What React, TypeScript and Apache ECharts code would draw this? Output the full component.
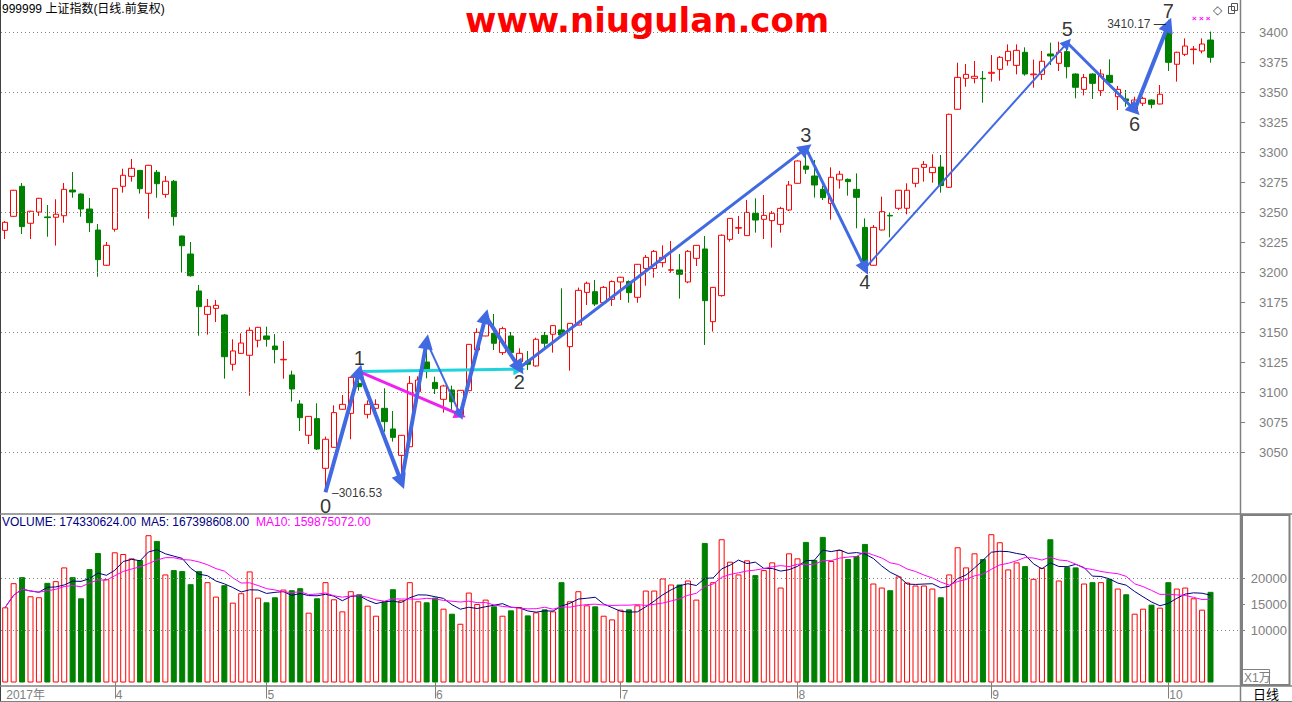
import React, { useEffect, useRef } from 'react';
import * as echarts from 'echarts';

// ---------- data ----------
const monthDays: [number, number[]][] = [
  [3, [15, 16, 17, 20, 21, 22, 23, 24, 27, 28, 29, 30, 31]],
  [4, [5, 6, 7, 10, 11, 12, 13, 14, 17, 18, 19, 20, 21, 24, 25, 26, 27, 28]],
  [5, [2, 3, 4, 5, 8, 9, 10, 11, 12, 15, 16, 17, 18, 19, 22, 23, 24, 25, 26, 31]],
  [6, [1, 2, 5, 6, 7, 8, 9, 12, 13, 14, 15, 16, 19, 20, 21, 22, 23, 26, 27, 28, 29, 30]],
  [7, [3, 4, 5, 6, 7, 10, 11, 12, 13, 14, 17, 18, 19, 20, 21, 24, 25, 26, 27, 28, 31]],
  [8, [1, 2, 3, 4, 7, 8, 9, 10, 11, 14, 15, 16, 17, 18, 21, 22, 23, 24, 25, 28, 29, 30, 31]],
  [9, [1, 4, 5, 6, 7, 8, 11, 12, 13, 14, 15, 18, 19, 20, 21, 22, 25, 26, 27, 28, 29]],
  [10, [9, 10, 11, 12, 13, 16]],
];

// [open, close, low, high]
const ohlc: number[][] = [
  [3234.7, 3241.4, 3227.5, 3242.5], [3246.4, 3268.1, 3246.0, 3268.5], [3271.4, 3237.8, 3231.7, 3274.2],
  [3240.6, 3250.6, 3227.5, 3251.1], [3250.0, 3261.4, 3246.7, 3261.8], [3245.9, 3245.3, 3229.4, 3255.8],
  [3245.6, 3248.1, 3222.0, 3260.6], [3246.9, 3268.9, 3241.1, 3274.2], [3268.3, 3266.7, 3261.9, 3283.3],
  [3265.0, 3252.5, 3246.1, 3265.5], [3252.5, 3241.1, 3233.3, 3261.7], [3235.0, 3210.3, 3196.1, 3240.0],
  [3205.6, 3222.2, 3205.0, 3225.0], [3235.6, 3269.7, 3233.6, 3270.0], [3271.4, 3280.6, 3266.1, 3286.1],
  [3279.7, 3286.4, 3275.3, 3294.2], [3284.7, 3269.4, 3265.3, 3285.0], [3265.6, 3288.9, 3244.4, 3289.2],
  [3283.1, 3273.6, 3261.9, 3285.0], [3264.7, 3275.6, 3261.9, 3280.0], [3275.6, 3246.1, 3238.6, 3276.7],
  [3230.0, 3221.9, 3199.7, 3230.3], [3215.0, 3196.9, 3196.1, 3225.0], [3184.2, 3171.1, 3146.9, 3189.2],
  [3164.7, 3171.4, 3147.8, 3177.5], [3169.7, 3172.2, 3158.3, 3176.7], [3164.2, 3129.4, 3111.1, 3165.0],
  [3123.1, 3134.2, 3117.8, 3143.9], [3132.2, 3140.8, 3131.9, 3148.9], [3130.6, 3151.4, 3096.9, 3153.9],
  [3143.1, 3153.9, 3137.2, 3154.2], [3146.7, 3143.9, 3137.8, 3154.4], [3138.3, 3135.3, 3123.9, 3148.3],
  [3126.8, 3127.2, 3111.1, 3142.5], [3114.2, 3102.5, 3092.0, 3117.8], [3090.0, 3078.6, 3067.5, 3093.3],
  [3063.9, 3079.7, 3056.7, 3080.0], [3077.8, 3052.5, 3051.7, 3090.6], [3036.4, 3060.6, 3016.53, 3062.8],
  [3053.9, 3082.8, 3053.6, 3088.9], [3085.6, 3089.7, 3085.3, 3097.5], [3082.2, 3112.2, 3060.6, 3112.5],
  [3107.2, 3104.4, 3101.1, 3119.7], [3081.4, 3089.7, 3078.0, 3093.0], [3086.4, 3089.7, 3082.2, 3093.9],
  [3086.4, 3075.3, 3066.9, 3103.1], [3069.2, 3062.2, 3058.6, 3084.2], [3047.2, 3063.9, 3024.0, 3064.2],
  [3054.4, 3107.2, 3054.0, 3113.3], [3100.3, 3110.0, 3098.0, 3113.0], [3125.0, 3117.0, 3111.4, 3143.3],
  [3108.0, 3102.8, 3098.3, 3112.8], [3093.9, 3105.0, 3082.8, 3106.0], [3101.7, 3091.9, 3085.0, 3105.3],
  [3080.8, 3101.4, 3079.4, 3101.7], [3101.1, 3139.7, 3100.8, 3140.0], [3135.0, 3149.7, 3134.7, 3153.1],
  [3146.7, 3157.8, 3146.4, 3163.3], [3148.9, 3140.6, 3135.0, 3165.0], [3132.8, 3152.8, 3130.8, 3154.4],
  [3146.7, 3132.8, 3129.4, 3150.0], [3125.3, 3132.2, 3118.3, 3136.4], [3125.8, 3123.1, 3118.3, 3134.2],
  [3121.7, 3143.9, 3121.1, 3145.3], [3147.2, 3140.6, 3135.0, 3150.0], [3148.1, 3155.3, 3132.8, 3155.6],
  [3151.7, 3147.5, 3147.0, 3186.4], [3137.8, 3157.2, 3117.8, 3157.5], [3155.8, 3184.7, 3155.5, 3187.0],
  [3183.0, 3190.6, 3172.5, 3192.0], [3183.6, 3173.3, 3171.7, 3193.3], [3174.4, 3187.2, 3174.0, 3188.3],
  [3177.2, 3192.0, 3171.7, 3193.0], [3191.7, 3195.6, 3176.7, 3196.0], [3192.0, 3182.8, 3174.4, 3193.0],
  [3178.9, 3206.4, 3174.4, 3206.7], [3203.0, 3212.2, 3188.6, 3214.2], [3203.0, 3217.2, 3195.3, 3218.3],
  [3207.8, 3212.2, 3203.9, 3222.2], [3201.5, 3201.9, 3199.4, 3225.8], [3201.7, 3198.1, 3177.8, 3215.0],
  [3191.7, 3217.2, 3190.6, 3218.3], [3211.4, 3222.2, 3205.0, 3222.5], [3219.2, 3176.1, 3139.2, 3230.0],
  [3158.6, 3187.2, 3150.3, 3187.5], [3180.3, 3230.6, 3179.4, 3231.4], [3227.2, 3244.7, 3225.3, 3245.0],
  [3236.5, 3237.0, 3231.7, 3246.7], [3230.3, 3249.7, 3230.0, 3260.0], [3248.9, 3243.3, 3232.8, 3261.4],
  [3243.9, 3247.2, 3227.5, 3264.2], [3242.8, 3248.9, 3220.3, 3250.8], [3239.7, 3253.0, 3232.8, 3254.4],
  [3251.7, 3272.5, 3250.8, 3275.8], [3273.9, 3292.5, 3273.6, 3293.0], [3288.3, 3285.6, 3281.7, 3304.4],
  [3280.0, 3272.5, 3262.0, 3293.3], [3268.9, 3262.0, 3260.0, 3272.0], [3257.2, 3278.9, 3243.6, 3287.2],
  [3276.7, 3281.5, 3269.5, 3284.3], [3277.2, 3275.3, 3263.6, 3278.0], [3268.9, 3262.2, 3236.4, 3282.2],
  [3237.2, 3208.6, 3201.7, 3244.7], [3205.6, 3237.2, 3205.3, 3239.2], [3235.0, 3250.3, 3234.7, 3262.8],
  [3247.2, 3246.7, 3228.9, 3249.4], [3253.1, 3268.1, 3251.7, 3268.5], [3253.1, 3268.1, 3248.1, 3273.9],
  [3273.9, 3286.4, 3270.6, 3286.7], [3287.2, 3289.7, 3275.3, 3292.5], [3282.8, 3287.2, 3274.4, 3298.0],
  [3287.5, 3272.0, 3266.1, 3297.5], [3270.6, 3331.4, 3270.0, 3332.0], [3335.6, 3362.2, 3335.3, 3374.4],
  [3361.4, 3364.7, 3354.4, 3373.3], [3361.4, 3363.1, 3357.2, 3375.8], [3361.4, 3361.0, 3341.1, 3367.5],
  [3365.6, 3366.4, 3358.6, 3380.8], [3368.9, 3378.9, 3359.4, 3380.0], [3376.1, 3383.9, 3372.0, 3389.7],
  [3372.2, 3384.7, 3364.7, 3389.7], [3383.1, 3365.0, 3363.6, 3387.2], [3364.4, 3365.0, 3353.6, 3377.0],
  [3364.7, 3375.6, 3360.0, 3384.2], [3381.7, 3380.0, 3372.5, 3391.1], [3373.9, 3383.1, 3367.5, 3392.0],
  [3383.6, 3371.1, 3361.4, 3391.1], [3365.0, 3353.9, 3344.7, 3365.5], [3352.2, 3362.0, 3347.2, 3365.0],
  [3365.0, 3357.2, 3344.2, 3365.5], [3351.1, 3365.0, 3346.7, 3368.9], [3363.9, 3357.8, 3357.2, 3377.2],
  [3346.1, 3352.2, 3335.0, 3355.0], [3344.2, 3342.5, 3337.8, 3351.7], [3335.6, 3343.3, 3333.6, 3346.1],
  [3340.6, 3344.7, 3338.3, 3346.1], [3343.3, 3339.7, 3336.4, 3343.9], [3340.0, 3348.1, 3339.7, 3355.8],
  [3403.1, 3374.7, 3367.5, 3410.17], [3373.1, 3383.1, 3358.6, 3383.6], [3381.4, 3388.3, 3380.0, 3394.7],
  [3385.3, 3385.8, 3373.0, 3388.3], [3384.2, 3390.0, 3382.2, 3394.7], [3393.3, 3378.9, 3374.4, 3400.3],
];

// volume in units of 10,000 shares (万)
const volume: number[] = [
  14455, 19100, 20260, 16584, 16390, 19164, 19487, 22131, 20260, 16197,
  21808, 24904, 19874, 25034, 24711, 23873, 23550, 28323, 27227, 20776,
  21615, 21422, 18906, 21422, 19293, 16520, 18713, 15358, 17165, 21357,
  16326, 15423, 16390, 17874, 17745, 18132, 13424, 16197, 19293, 16003,
  13682, 17552, 16971, 14778, 12843, 15617, 17939, 15810, 19293, 15617,
  15423, 16326, 14197, 13230, 11295, 17294, 15100, 15939, 14649, 12843,
  13875, 14520, 12907, 13488, 14068, 13682, 19293, 15617, 17552, 14842,
  14649, 12843, 12134, 14004, 14068, 14842, 17680, 17680, 20000, 18841,
  18841, 19616, 15939, 26840, 19293, 27549, 23228, 20776, 23486, 20648,
  21615, 23098, 18261, 24840, 23873, 27033, 23550, 28001, 23357, 25485,
  23744, 24324, 26646, 19035, 18261, 17745, 20390, 19229, 18648, 18648,
  18068, 16390, 20776, 26001, 22131, 24840, 23744, 28517, 26968, 21744,
  23098, 22389, 19938, 22067, 27549, 19616, 22196, 22131, 19035, 19293,
  19293, 19938, 18068, 16971, 13230, 14197, 14971, 14391, 19293, 18068,
  18261, 16197, 14004, 17433.0624,
];

const priceTicks = [3050, 3075, 3100, 3125, 3150, 3175, 3200, 3225, 3250, 3275, 3300, 3325, 3350, 3375, 3400];
const priceGrid = [3050, 3100, 3150, 3200, 3250, 3300, 3350, 3400];
const volTicks = [10000, 15000, 20000];
const volGrid = [10000, 20000];

// wave path (bar index, price)
const waveIdx = [38, 42, 47, 50, 54, 57, 61, 95, 102, 126, 134, 138];
const waveVal = [3016.53, 3117, 3025, 3142, 3081, 3163, 3120, 3303, 3203, 3391, 3335, 3406];
const waveWidth = [4, 4, 4, 2, 4, 4, 3, 3, 2, 3, 4];
const waveLabelIdx = [38, 42, 61, 95, 102, 126, 134, 138];
const waveLabelVal = [3016.53, 3117, 3120, 3303, 3203, 3391, 3335, 3406];
const waveLabelText = ['0', '1', '2', '3', '4', '5', '6', '7'];
const waveLabelPos = ['bottom', 'top', 'bottom', 'top', 'bottom', 'top', 'bottom', 'top'];

const FONT = '"Liberation Sans", Arial, "Noto Sans CJK SC", sans-serif';
const BLUE = '#4169E1';
const UP = '#ff0000';
const DOWN = '#008000';
const GRAY = '#808080';

// ---------- derived ----------
const cats: string[] = [];
const monthLabels = new Map<number, string>();
monthDays.forEach(([m, days]) => {
  monthLabels.set(cats.length, m === 3 ? '2017年' : String(m));
  days.forEach((d) => cats.push(`2017-${String(m).padStart(2, '0')}-${String(d).padStart(2, '0')}`));
});
const padCats = [...cats, 'p1', 'p2', 'p3'];

const isUp = (i: number) => {
  const [o, c] = ohlc[i];
  if (c !== o) return c > o;
  return i > 0 ? c >= ohlc[i - 1][1] : true;
};

const movingAvg = (arr: number[], n: number) =>
  arr.map((_, i) => {
    const s = arr.slice(Math.max(0, i - n + 1), i + 1);
    return s.reduce((a, b) => a + b, 0) / s.length;
  });

export default function App() {
  const ref = useRef<HTMLDivElement>(null);
  useEffect(() => {
    if (!ref.current) return;
    const chart = echarts.init(ref.current, undefined, { renderer: 'svg' });

    const segs = waveIdx.slice(1).map((x, k) => ({
      coords: [[waveIdx[k], waveVal[k]], [x, waveVal[k + 1]]],
      w: waveWidth[k],
    }));
    const lineSeries = (data: any[], color: string, width: number, arrow: number, z: number) => ({
      type: 'lines',
      coordinateSystem: 'cartesian2d',
      xAxisIndex: 0,
      yAxisIndex: 0,
      silent: true,
      z,
      symbol: ['none', 'triangle'],
      symbolSize: [0, arrow],
      lineStyle: { color, width, opacity: 1, curveness: 0 },
      data,
    });

    const option: any = {
      animation: false,
      backgroundColor: '#ffffff',
      grid: [
        { left: 1, right: 52, top: 2, height: 540 },
        { left: 1, right: 52, top: 514, height: 168.5 },
      ],
      xAxis: [
        { type: 'category', gridIndex: 0, data: padCats, boundaryGap: true, show: false },
        {
          type: 'category',
          gridIndex: 1,
          data: padCats,
          boundaryGap: true,
          offset: 3.5,
          axisLine: { show: false },
          axisTick: {
            show: true,
            alignWithLabel: true,
            length: 16,
            interval: (i: number) => i > 0 && monthLabels.has(i),
            lineStyle: { color: GRAY },
          },
          axisLabel: {
            interval: (i: number) => monthLabels.has(i),
            formatter: (_v: string, i: number) => monthLabels.get(i) ?? '',
            align: 'left',
            margin: 3,
            padding: [0, 0, 0, 1],
            color: GRAY,
            fontSize: 12,
            fontFamily: FONT,
          },
          splitLine: { show: false },
        },
      ],
      yAxis: [
        {
          type: 'value',
          gridIndex: 0,
          position: 'right',
          min: 2975,
          max: 3425,
          interval: 25,
          splitLine: { show: false },
          axisLine: { show: false },
          axisTick: { show: true, length: 5, customValues: priceTicks, lineStyle: { color: GRAY } },
          axisLabel: {
            customValues: priceTicks,
            formatter: (v: number) => (priceTicks.includes(v) ? String(v) : ''),
            align: 'right',
            margin: 48,
            color: GRAY,
            fontSize: 13,
            fontFamily: FONT,
          },
        },
        {
          type: 'value',
          gridIndex: 1,
          position: 'right',
          min: 0,
          max: 32400,
          interval: 5000,
          splitLine: { show: false },
          axisLine: { show: false },
          axisTick: { show: true, length: 5, customValues: volTicks, lineStyle: { color: GRAY } },
          axisLabel: {
            customValues: volTicks,
            formatter: (v: number) => (volTicks.includes(v) ? String(v) : ''),
            align: 'right',
            margin: 47,
            color: GRAY,
            fontSize: 13,
            fontFamily: FONT,
          },
        },
      ],
      series: [
        {
          type: 'candlestick',
          xAxisIndex: 0,
          yAxisIndex: 0,
          data: ohlc,
          barWidth: 6,
          silent: true,
          itemStyle: { color: '#ffffff', color0: DOWN, borderColor: UP, borderColor0: DOWN, borderWidth: 1 },
          markLine: {
            silent: true,
            symbol: ['none', 'none'],
            label: { show: false },
            lineStyle: { color: GRAY, type: [1, 3], width: 1 },
            data: priceGrid.map((v) => ({ yAxis: v })),
          },
          z: 2,
        },
        {
          type: 'bar',
          xAxisIndex: 1,
          yAxisIndex: 1,
          barWidth: 6,
          silent: true,
          data: volume.map((v, i) => ({
            value: v,
            itemStyle: isUp(i)
              ? { color: '#ffffff', borderColor: UP, borderWidth: 1 }
              : { color: DOWN, borderColor: DOWN, borderWidth: 1 },
          })),
          markLine: {
            silent: true,
            symbol: ['none', 'none'],
            label: { show: false },
            lineStyle: { color: GRAY, type: [1, 3], width: 1 },
            data: volGrid.map((v) => ({ yAxis: v })),
          },
        },
        {
          type: 'line',
          xAxisIndex: 1,
          yAxisIndex: 1,
          data: movingAvg(volume, 5),
          showSymbol: false,
          silent: true,
          lineStyle: { color: '#000080', width: 1 },
          z: 4,
        },
        {
          type: 'line',
          xAxisIndex: 1,
          yAxisIndex: 1,
          data: movingAvg(volume, 10),
          showSymbol: false,
          silent: true,
          lineStyle: { color: '#ff00ff', width: 1 },
          z: 4,
        },
        lineSeries([{ coords: [[42, 3117], [61, 3119]] }], '#1fd3dc', 3, 12, 5),
        lineSeries([{ coords: [[42, 3117], [54, 3081]] }], '#ee22ee', 3, 12, 5),
        lineSeries(segs.filter((s) => s.w === 4), BLUE, 4, 15, 6),
        lineSeries(segs.filter((s) => s.w === 3), BLUE, 3, 14, 6),
        lineSeries(segs.filter((s) => s.w === 2), BLUE, 2, 11, 6),
        {
          type: 'scatter',
          xAxisIndex: 0,
          yAxisIndex: 0,
          silent: true,
          symbolSize: 1,
          itemStyle: { color: 'transparent' },
          z: 7,
          data: waveLabelIdx.map((x, k) => ({
            value: [x, waveLabelVal[k]],
            label: {
              show: true,
              formatter: waveLabelText[k],
              position: waveLabelPos[k],
              distance: 3,
              fontSize: 20,
              color: '#000',
              fontFamily: FONT,
            },
          })),
        },
        {
          type: 'scatter',
          xAxisIndex: 0,
          yAxisIndex: 0,
          silent: true,
          symbolSize: 1,
          itemStyle: { color: 'transparent' },
          z: 7,
          data: [
            {
              value: [38, 3016.53],
              label: { show: true, formatter: '–3016.53', position: 'right', distance: 6, offset: [0, 1], fontSize: 12, color: '#000', fontFamily: FONT },
            },
            {
              value: [138, 3410.17],
              label: { show: true, formatter: '3410.17 —', position: 'left', distance: 2, offset: [0, 4], fontSize: 12, color: '#000', fontFamily: FONT },
            },
          ],
        },
      ],
      graphic: [
        { type: 'line', shape: { x1: 0.5, y1: 0, x2: 0.5, y2: 702 }, style: { stroke: '#404040', lineWidth: 1 }, silent: true },
        { type: 'line', shape: { x1: 0, y1: 514, x2: 1292, y2: 514 }, style: { stroke: GRAY, lineWidth: 1.5 }, silent: true },
        { type: 'line', shape: { x1: 0, y1: 686, x2: 1292, y2: 686 }, style: { stroke: GRAY, lineWidth: 1.5 }, silent: true },
        { type: 'line', shape: { x1: 0, y1: 701.5, x2: 1292, y2: 701.5 }, style: { stroke: GRAY, lineWidth: 1 }, silent: true },
        { type: 'line', shape: { x1: 1240.5, y1: 0, x2: 1240.5, y2: 702 }, style: { stroke: GRAY, lineWidth: 1.5 }, silent: true },
        { type: 'rect', shape: { x: 1242, y: 515, width: 47.5, height: 170 }, style: { fill: 'none', stroke: GRAY, lineWidth: 2 }, silent: true },
        { type: 'rect', shape: { x: 1242.5, y: 669.5, width: 27, height: 15 }, style: { fill: 'none', stroke: GRAY, lineWidth: 1 }, silent: true },
        { type: 'text', style: { x: 1244, y: 677.5, text: 'X1万', fill: GRAY, fontSize: 12, fontFamily: FONT, verticalAlign: 'middle' }, silent: true },
        { type: 'text', style: { x: 1253, y: 694, text: '日线', fill: '#000', fontSize: 13, fontFamily: FONT, verticalAlign: 'middle' }, silent: true },
        { type: 'text', style: { x: 2, y: 8.5, text: '999999 上证指数(日线.前复权)', fill: '#000', fontSize: 12, fontFamily: FONT, verticalAlign: 'middle' }, silent: true },
        { type: 'text', style: { x: 465, y: 19.5, text: 'www.niugulan.com', fill: '#ff0000', fontSize: 34, lineHeight: 34, fontWeight: 'bold', fontFamily: '"DejaVu Sans", sans-serif', verticalAlign: 'middle' }, silent: true },
        { type: 'text', style: { x: 2, y: 522, text: 'VOLUME: 174330624.00', fill: '#000080', fontSize: 12, fontFamily: FONT, verticalAlign: 'middle' }, silent: true },
        { type: 'text', style: { x: 141, y: 522, text: 'MA5: 167398608.00', fill: '#000080', fontSize: 12, fontFamily: FONT, verticalAlign: 'middle' }, silent: true },
        { type: 'text', style: { x: 256, y: 522, text: 'MA10: 159875072.00', fill: '#ff00ff', fontSize: 12, fontFamily: FONT, verticalAlign: 'middle' }, silent: true },
        { type: 'text', style: { x: 1192, y: 18, text: '× × ×', fill: '#ff00ff', fontSize: 8, fontWeight: 'bold', fontFamily: FONT, verticalAlign: 'middle' }, silent: true },
        { type: 'text', style: { x: 1213, y: 10, text: '◇', fill: '#555', fontSize: 12, fontFamily: '"DejaVu Sans", sans-serif', verticalAlign: 'middle' }, silent: true },
        { type: 'rect', shape: { x: 1228.5, y: 6.5, width: 6, height: 7 }, style: { fill: '#fff', stroke: '#555', lineWidth: 1 }, silent: true },
        { type: 'rect', shape: { x: 1231.5, y: 3.5, width: 6, height: 7 }, style: { fill: 'none', stroke: '#555', lineWidth: 1 }, silent: true },
      ],
    };
    chart.setOption(option);
    return () => chart.dispose();
  }, []);

  return (
    <div
      ref={ref}
      style={{ position: 'fixed', left: 0, top: 0, width: 1292, height: 702, background: '#fff' }}
    />
  );
}
